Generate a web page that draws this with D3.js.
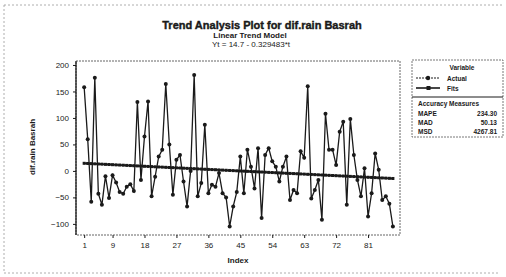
<!DOCTYPE html>
<html><head><meta charset="utf-8">
<script src="https://cdn.jsdelivr.net/npm/d3@7"></script>
<style>body{margin:0;background:#fff}svg{display:block;font-family:"Liberation Sans",Arial,sans-serif}</style>
</head><body>
<script>
const actual = [158,60,-58,176,-43,-64,-10,-51,-8,-22,-40,-43,-30,-25,-38,130,-17,65,131,-48,
  -11,27,40,164,50,-45,21,30,-20,-67,0,181,-48,-23,87,-42,-26,-30,-4,-42,
  -50,-105,-67,-40,27,-42,40,8,-33,43,-89,30,43,18,8,-20,8,27,-55,-36,
  -42,37,25,160,-52,-36,-17,-92,108,40,40,11,74,93,-64,98,30,-17,-48,5,
  -86,-42,33,2,-55,-48,-62,-105];
const trendA = 14.7, trendB = -0.329483;
const fits = actual.map((d,i)=> trendA + trendB*(i+1));
const xTicks = [1,9,18,27,36,45,54,63,72,81];
const yTicks = [-100,-50,0,50,100,150,200];
const titleText = "Trend Analysis Plot for dif.rain Basrah";
const subText = "Linear Trend Model";
const eqText = "Yt = 14.7 - 0.329483*t";
const legendItems = ["Actual","Fits"];
const accLabels = ["MAPE","MAD","MSD"];
const accValues = ["234.30","50.13","4267.81"];

const W=506,H=277;
const svg=d3.select("body").append("svg").attr("width",W).attr("height",H);
const ink="#1a1a1a";
// scan border
svg.append("path").attr("d","M4,5 H502 M4,5 V273 M4,273 H500")
  .attr("stroke","#999").attr("fill","none").attr("stroke-width",0.8).attr("stroke-dasharray","2,2");

const x=d3.scaleLinear().domain([-1.3,90]).range([76,400]);
const y=d3.scaleLinear().domain([-121,207.5]).range([235,61]);

// frame
svg.append("rect").attr("x",76).attr("y",61).attr("width",324).attr("height",174)
  .attr("fill","none").attr("stroke","#666").attr("stroke-width",1).attr("stroke-dasharray","2,1");
svg.append("line").attr("x1",76).attr("x2",76).attr("y1",61).attr("y2",235).attr("stroke",ink).attr("stroke-width",1.3);

const yAxis=d3.axisLeft(y).tickValues(yTicks).tickSize(3).tickPadding(4);
const gy=svg.append("g").attr("transform","translate(76,0)").call(yAxis);
gy.select(".domain").remove();
gy.selectAll("text").attr("font-size",8).attr("fill",ink);
gy.selectAll("line").attr("stroke",ink);

const xAxis=d3.axisBottom(x).tickValues(xTicks).tickSize(3).tickPadding(4);
const gx=svg.append("g").attr("transform","translate(0,235)").call(xAxis);
gx.select(".domain").remove();
gx.selectAll("text").attr("font-size",8).attr("fill",ink);
gx.selectAll("line").attr("stroke",ink);

// fits
const line=d3.line().x((d,i)=>x(i+1)).y(d=>y(d));
svg.append("path").datum(fits).attr("d",line).attr("fill","none").attr("stroke",ink).attr("stroke-width",1.8);
svg.append("g").selectAll("rect").data(fits).join("rect")
  .attr("x",(d,i)=>x(i+1)-1.5).attr("y",d=>y(d)-1.5).attr("width",3).attr("height",3).attr("fill",ink);
// actual
svg.append("path").datum(actual).attr("d",line).attr("fill","none").attr("stroke",ink).attr("stroke-width",1.3);
svg.append("g").selectAll("circle").data(actual).join("circle")
  .attr("cx",(d,i)=>x(i+1)).attr("cy",d=>y(d)).attr("r",2).attr("fill",ink);

// titles
svg.append("text").attr("x",262).attr("y",29).attr("text-anchor","middle").attr("font-size",11).attr("font-weight","bold").attr("fill",ink).attr("stroke",ink).attr("stroke-width",0.4).text(titleText);
svg.append("text").attr("x",250).attr("y",38).attr("text-anchor","middle").attr("font-size",8).attr("font-weight","bold").attr("fill",ink).text(subText);
svg.append("text").attr("x",251).attr("y",47).attr("text-anchor","middle").attr("font-size",8).attr("fill",ink).text(eqText);
svg.append("text").attr("transform","translate(35,147) rotate(-90)").attr("text-anchor","middle").attr("font-size",8).attr("font-weight","bold").attr("fill",ink).text("dif.rain Basrah");
svg.append("text").attr("x",238).attr("y",263).attr("text-anchor","middle").attr("font-size",8).attr("font-weight","bold").attr("fill",ink).text("Index");

// legend
const lg=svg.append("g");
lg.append("rect").attr("x",412).attr("y",60).attr("width",91).attr("height",77).attr("fill","none").attr("stroke","#555").attr("stroke-width",0.8).attr("stroke-dasharray","2,1");
lg.append("line").attr("x1",412).attr("x2",503).attr("y1",97).attr("y2",97).attr("stroke",ink).attr("stroke-width",1);
lg.append("text").attr("x",462).attr("y",70).attr("text-anchor","middle").attr("font-size",6.5).attr("font-weight","bold").attr("fill",ink).text("Variable");
legendItems.forEach((t,i)=>{
  const yy=78+i*10;
  lg.append("line").attr("x1",416).attr("x2",440).attr("y1",yy).attr("y2",yy).attr("stroke",ink).attr("stroke-width",i?1.6:1).attr("stroke-dasharray",i?null:"2,1");
  if(i) lg.append("rect").attr("x",426.5).attr("y",yy-2).attr("width",4).attr("height",4).attr("fill",ink);
  else lg.append("circle").attr("cx",428).attr("cy",yy).attr("r",2.2).attr("fill",ink);
  lg.append("text").attr("x",447).attr("y",yy+2.5).attr("font-size",6.5).attr("font-weight","bold").attr("fill",ink).text(t);
});
lg.append("text").attr("x",418).attr("y",106).attr("font-size",6.5).attr("font-weight","bold").attr("fill",ink).text("Accuracy Measures");
accLabels.forEach((t,i)=>{
  const yy=116+i*9;
  lg.append("text").attr("x",418).attr("y",yy).attr("font-size",6.5).attr("font-weight","bold").attr("fill",ink).text(t);
  lg.append("text").attr("x",497).attr("y",yy).attr("text-anchor","end").attr("font-size",6.5).attr("font-weight","bold").attr("fill",ink).text(accValues[i]);
});
</script>
</body></html>
